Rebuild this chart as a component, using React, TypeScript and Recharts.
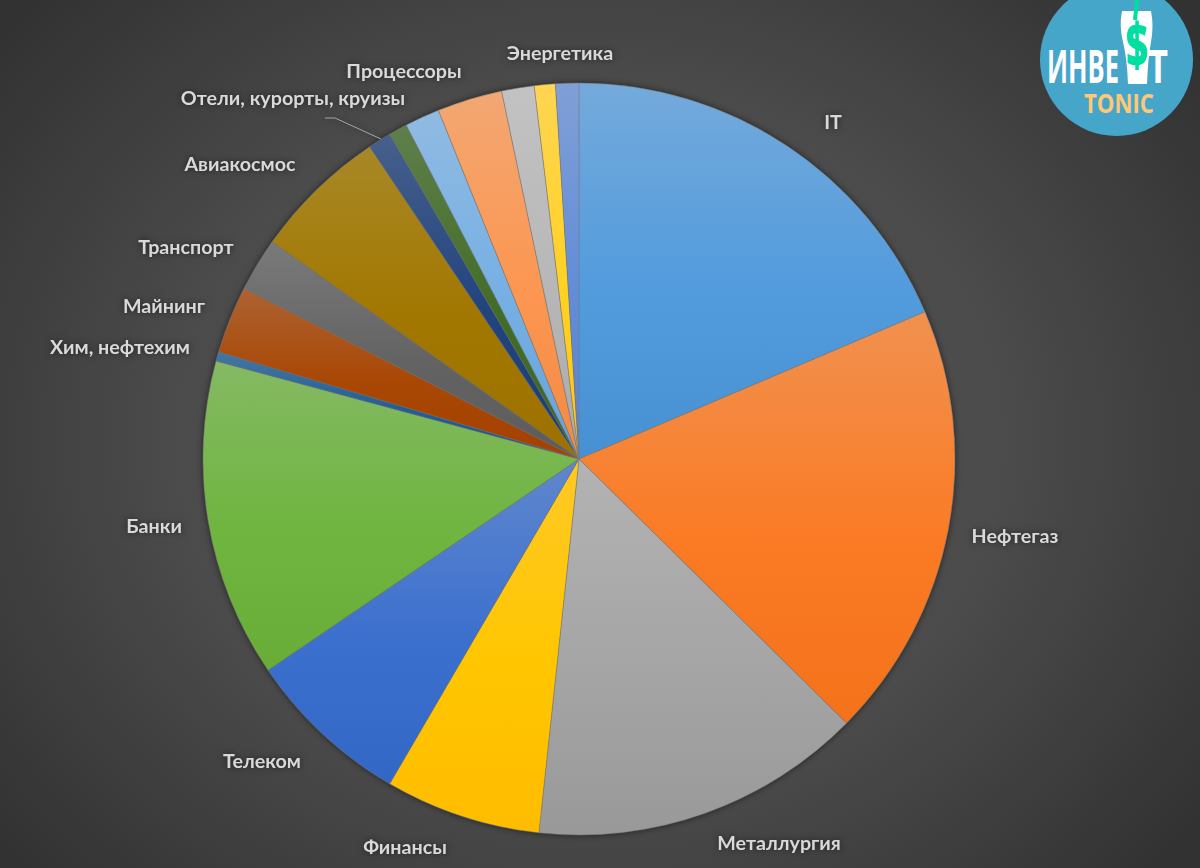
import React from "react";
import { PieChart, Pie, Cell } from "recharts";

const sectors = ["IT", "Нефтегаз", "Металлургия", "Финансы", "Телеком", "Банки", "Хим, нефтехим", "Майнинг", "Транспорт", "Авиакосмос", "Отели, курорты, круизы", "Сегмент 12", "Сегмент 13", "Процессоры", "Сегмент 15", "Сегмент 16", "Энергетика"];
const shares = [18.6, 18.8, 14.3, 6.7, 7.1, 13.7, 0.4, 2.9, 2.3, 5.8, 1.0, 0.8, 1.5, 2.8, 1.4, 0.9, 1.0];
const colors = ["#5b9bd5", "#ed7d31", "#a5a5a5", "#ffc000", "#4472c4", "#70ad47", "#255e91", "#9e480e", "#636363", "#997300", "#264478", "#43682b", "#7cafdd", "#f1975a", "#b7b7b7", "#ffcd33", "#698ed0"];

const W = 1200;
const H = 868;
const LABEL_FONT = "Lato, Carlito, sans-serif";
const LOGO_FONT = "'Open Sans', sans-serif";
const labelPlace: Record<string, [number, number]> = {
  "IT": [833, 121],
  "Нефтегаз": [1015, 535],
  "Металлургия": [779, 842],
  "Финансы": [405, 846],
  "Телеком": [262, 760],
  "Банки": [154, 525],
  "Хим, нефтехим": [120, 346],
  "Майнинг": [164, 305],
  "Транспорт": [186, 246],
  "Авиакосмос": [240, 163],
  "Отели, курорты, круизы": [293, 97],
  "Процессоры": [404, 70],
  "Энергетика": [560, 52],
};

const rgb = (hex: string) => {
  const n = parseInt(hex.slice(1), 16);
  return [(n >> 16) & 255, (n >> 8) & 255, n & 255];
};
const clamp = (v: number) => Math.max(0, Math.min(255, Math.round(v)));
const tone = (hex: string, sat: number, lum: number, white: number) => {
  const c = rgb(hex);
  const avg = (c[0] + c[1] + c[2]) / 3;
  const out = c.map((v) => {
    const s = (v + (v - avg) * sat) * lum;
    return clamp(s + (255 - s) * white);
  });
  return `rgb(${out[0]},${out[1]},${out[2]})`;
};

const data = sectors.map((name, i) => ({ name, value: shares[i] }));

const renderLabel = (props: any) => {
  const place = labelPlace[props.name];
  if (!place) return null;
  return (
    <text x={place[0]} y={place[1]} textAnchor="middle" dominantBaseline="central" fill="#d9d9d9" fontFamily={LABEL_FONT} fontWeight={700} fontSize={19.7}>
      {props.name}
    </text>
  );
};

const Logo = () => (
  <svg width={W} height={H} style={{ position: "absolute", left: 0, top: 0 }}>
    <circle cx={1116.5} cy={59.5} r={76.5} fill="#46a6c9" />
    <path d="M1122 11 L1151 11 Q1154 26 1151 42 Q1148 58 1147 84 L1128 84 Q1127 58 1123 42 Q1119 26 1122 11 Z" fill="#ffffff" />
    <text x={1047} y={83} fill="#ffffff" fontFamily={LOGO_FONT} fontWeight={700} fontSize={46} textLength={72} lengthAdjust="spacingAndGlyphs">ИНВЕ</text>
    <text x={1148} y={83} fill="#ffffff" fontFamily={LOGO_FONT} fontWeight={700} fontSize={46} textLength={20} lengthAdjust="spacingAndGlyphs">Т</text>
    <line x1={1137} y1={0} x2={1135} y2={20} stroke="#00dfa0" strokeWidth={4} />
    <text transform="translate(1137,66) scale(0.8,1.25)" textAnchor="middle" fill="#00dfa0" fontFamily={LOGO_FONT} fontWeight={800} fontSize={48}>$</text>
    <text x={1084} y={113} fill="#ffc875" fontFamily={LOGO_FONT} fontWeight={700} fontSize={27} textLength={70} lengthAdjust="spacingAndGlyphs">TONIC</text>
  </svg>
);

export default function App() {
  return (
    <div style={{ position: "absolute", left: 0, top: 0, width: W, height: H, overflow: "hidden", background: "radial-gradient(ellipse 760px 640px at 590px 440px, #555555 0%, #4b4b4b 55%, #323232 100%)" }}>
      <div style={{ filter: "drop-shadow(0 0 3px rgba(0,0,0,0.55))" }}>
        <PieChart width={W} height={H} margin={{ top: 0, right: 0, bottom: 0, left: 0 }}>
          <defs>
            {colors.map((c, i) => (
              <linearGradient key={i} id={`slice-${i}`} x1="0" y1="0" x2="0" y2="1">
                <stop offset="0%" stopColor={tone(c, 0, 1.0, 0.15)} />
                <stop offset="55%" stopColor={tone(c, 0.14, 1.0, 0)} />
                <stop offset="100%" stopColor={tone(c, 0.24, 0.93, 0)} />
              </linearGradient>
            ))}
          </defs>
          <Pie data={data} dataKey="value" nameKey="name" cx={579} cy={459} outerRadius={376} startAngle={90} endAngle={-270} stroke="#7a7a7a" strokeWidth={0.5} label={renderLabel} labelLine={false} isAnimationActive={false}>
            {data.map((_, i) => (
              <Cell key={i} fill={`url(#slice-${i})`} />
            ))}
          </Pie>
          <polyline points="325,118 335,118 381,139" fill="none" stroke="#a6a6a6" strokeWidth={1} />
        </PieChart>
      </div>
      <Logo />
    </div>
  );
}
